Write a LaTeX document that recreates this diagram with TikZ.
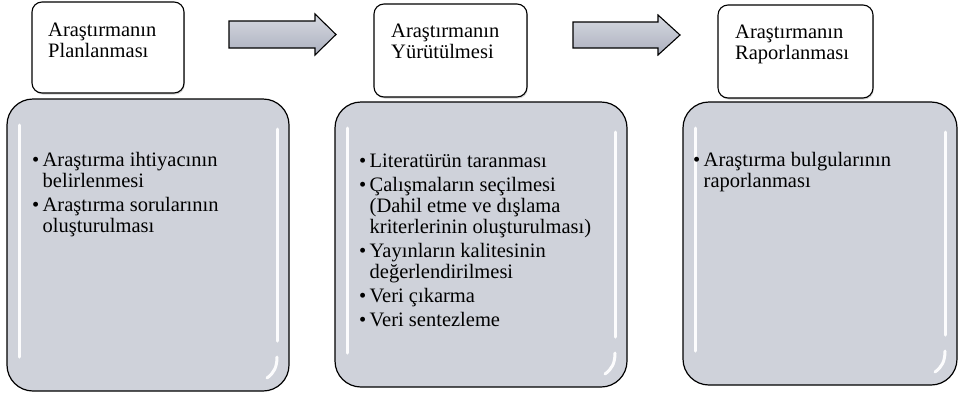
\documentclass[tikz,border=0pt]{standalone}
\usepackage{fontspec}
\setmainfont{Liberation Serif}
\usetikzlibrary{shadows}
\definecolor{boxgray}{RGB}{207,210,218}
\definecolor{arrowtop}{RGB}{214,217,225}
\definecolor{arrowbot}{RGB}{172,176,190}
\newcommand{\bul}{\makebox[10.5pt][l]{•}}
\newcommand{\ind}{\hspace*{10.5pt}}
\tikzset{
  titlebox/.style={draw=black, line width=1.1pt, fill=white, rounded corners=10pt,
    drop shadow={opacity=0.35, shadow xshift=0.8pt, shadow yshift=-1.5pt}},
  graybox/.style={draw=black, line width=1.2pt, fill=boxgray, rounded corners=26pt},
  gloss/.style={white, line width=3pt, line cap=round, opacity=0.95},
  bigarrow/.style={draw=black, line width=1.1pt, top color=arrowtop, bottom color=arrowbot, line join=miter},
  txt/.style={inner sep=0pt, anchor=base west, font=\fontsize{20.5}{21}\selectfont}
}
\begin{document}
\begin{tikzpicture}[x=1pt,y=-1pt]
\useasboundingbox (0,0) rectangle (960,394);

% gray boxes
\foreach \xa/\ya/\xb/\yb in {7/99/289/391, 335/102/627/387, 683/102/957/385}{
  \draw[graybox] (\xa,\ya) rectangle (\xb,\yb);
  \draw[gloss] (\xa+12,\ya+26) -- (\xa+12,\yb-34);
  \draw[gloss] (\xb-12,\ya+30) -- (\xb-12,\yb-50);
  \draw[gloss] (\xb-12,\yb-34) .. controls (\xb-12,\yb-24) and (\xb-15,\yb-18) .. (\xb-22,\yb-13);
}

% title boxes
\draw[titlebox] (32,2) rectangle (184,93);
\draw[titlebox] (374,4) rectangle (527,97);
\draw[titlebox] (718,5) rectangle (873,98);

\node[txt] (t1) at (48,36) {\parbox[t]{130pt}{Araştırmanın\\Planlanması}};
\node[txt] (t2) at (391,37) {\parbox[t]{130pt}{Araştırmanın\\Yürütülmesi}};
\node[txt] (t3) at (735,38) {\parbox[t]{130pt}{Araştırmanın\\Raporlanması}};

% arrows
\draw[bigarrow] (229,21) -- (315,21) -- (315,14) -- (336,34.5) -- (315,55) -- (315,48) -- (229,48) -- cycle;
\draw[bigarrow] (573,22) -- (658,22) -- (658,15) -- (680,35) -- (658,55) -- (658,48) -- (573,48) -- cycle;

% list texts
\node[txt] (l1) at (32,166) {\parbox[t]{250pt}{%
\bul Araştırma ihtiyacının\\\ind belirlenmesi\\[3pt]%
\bul Araştırma sorularının\\\ind oluşturulması}};
\node[txt] (l2) at (359,167) {\parbox[t]{265pt}{%
\bul Literatürün taranması\\[3pt]%
\bul Çalışmaların seçilmesi\\\ind (Dahil etme ve dışlama\\\ind kriterlerinin oluşturulması)\\[3pt]%
\bul Yayınların kalitesinin\\\ind değerlendirilmesi\\[3pt]%
\bul Veri çıkarma\\[3pt]%
\bul Veri sentezleme}};
\node[txt] (l3) at (693,166) {\parbox[t]{255pt}{%
\bul Araştırma bulgularının\\\ind raporlanması}};
\end{tikzpicture}
\end{document}
